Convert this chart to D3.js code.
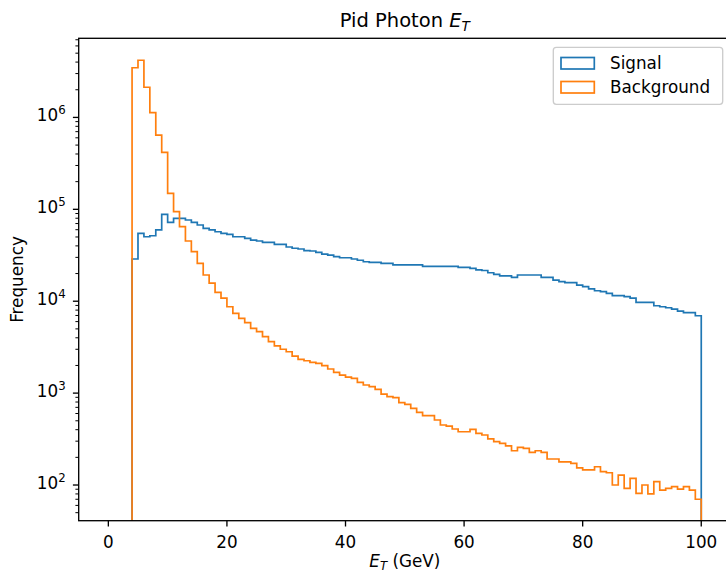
<!DOCTYPE html>
<html><head><meta charset="utf-8">
<script src="https://cdn.jsdelivr.net/npm/d3@7"></script>
<style>body{margin:0;background:#fff;} svg{display:block;font-family:"DejaVu Sans",sans-serif;}</style>
</head><body><svg id="c" width="726" height="576"></svg>
<script>
// ---- data ----
const binEdges = d3.range(4, 101, 1); // 96 bins of 1 GeV from 4 to 100
const seriesNames = ["Signal", "Background"];
const signal = [
 28800,54800,50300,51600,59600,88300,72200,79800,79800,76500,
 72200,67500,62100,59600,57000,54800,53500,50300,50300,48300,
 46300,45200,43700,43700,41600,41600,38900,37700,37000,35600,
 35200,34000,32600,31800,30500,29700,29700,28800,27900,26900,
 26500,26500,25800,25800,24800,24800,24800,24800,24800,24000,
 24000,24000,24000,24000,24000,23400,23400,22800,21900,21600,
 20400,19600,18900,18900,18200,19300,19300,19300,19300,18200,
 18200,17000,16300,15900,15900,15000,14400,13600,13000,12700,
 12200,11500,11500,11200,10800,9730,9730,9730,8930,8710,
 8490,8220,7820,7500,7500,6950
];
const background = [
 3470000,4190000,2130000,1125000,643000,417000,149000,94200,64700,45200,
 34600,25800,19300,15700,12500,10800,8710,7380,6510,5840,
 5070,4660,4110,3630,3260,3000,2820,2530,2330,2250,
 2160,2110,1990,1830,1680,1570,1490,1450,1310,1225,
 1175,1100,977,914,891,787,756,684,618,568,
 568,510,450,438,407,380,380,404,365,350,
 317,296,284,266,236,257,251,227,236,227,
 192,192,179,179,172,154,146,146,158,140,
 136,100,128,92,118,81,100,80,109,88,
 92,96,90,96,88,70
];
const xTicks = [0, 20, 40, 60, 80, 100];
const yTickExps = [2, 3, 4, 5, 6];
const colors = ["#1f77b4", "#ff7f0e"];

// ---- layout ----
const svg = d3.select("#c");
const P = {left: 78.7, right: 730.9, top: 38.3, bottom: 520.7};
const x = d3.scaleLinear().domain([-5, 105]).range([P.left, P.right]);
const y = d3.scaleLog().domain([40.9, 7.26e6]).range([P.bottom, P.top]);
const FS = 16.8;

svg.append("defs").append("clipPath").attr("id", "clip")
  .append("rect").attr("x", P.left).attr("y", P.top)
  .attr("width", P.right - P.left).attr("height", P.bottom - P.top);

function stepPath(vals) {
  const pts = [[x(binEdges[0]), P.bottom + 10]];
  vals.forEach((v, i) => {
    pts.push([x(binEdges[i]), y(v)]);
    pts.push([x(binEdges[i + 1]), y(v)]);
  });
  pts.push([x(binEdges[binEdges.length - 1]), P.bottom + 10]);
  return d3.line()(pts);
}

const g = svg.append("g").attr("clip-path", "url(#clip)");
[signal, background].forEach((vals, k) => {
  g.append("path").attr("d", stepPath(vals)).attr("fill", "none")
    .attr("stroke", colors[k]).attr("stroke-width", 1.7)
    .attr("stroke-linejoin", "miter");
});

// spines
svg.append("rect").attr("x", P.left).attr("y", P.top)
  .attr("width", P.right - P.left).attr("height", P.bottom - P.top)
  .attr("fill", "none").attr("stroke", "#000").attr("stroke-width", 1.33);

// x ticks
xTicks.forEach(t => {
  svg.append("line").attr("x1", x(t)).attr("x2", x(t))
    .attr("y1", P.bottom).attr("y2", P.bottom + 5.8)
    .attr("stroke", "#000").attr("stroke-width", 1.33);
  svg.append("text").attr("x", x(t)).attr("y", P.bottom + 27)
    .attr("text-anchor", "middle").attr("font-size", FS).attr("fill", "#000").text(t);
});

// y ticks major
yTickExps.forEach(e => {
  const yy = y(Math.pow(10, e));
  svg.append("line").attr("x1", P.left - 5.8).attr("x2", P.left)
    .attr("y1", yy).attr("y2", yy).attr("stroke", "#000").attr("stroke-width", 1.33);
  const t = svg.append("text").attr("x", P.left - 13).attr("y", yy + 4)
    .attr("text-anchor", "end").attr("font-size", FS).attr("fill", "#000");
  t.append("tspan").text("10");
  t.append("tspan").attr("dy", -7).attr("font-size", FS * 0.7).text(e);
});
// y minor ticks
for (let e = 1; e <= 6; e++) {
  for (let k = 2; k <= 9; k++) {
    const v = k * Math.pow(10, e);
    if (v < y.domain()[0] || v > y.domain()[1]) continue;
    svg.append("line").attr("x1", P.left - 3.3).attr("x2", P.left)
      .attr("y1", y(v)).attr("y2", y(v)).attr("stroke", "#000").attr("stroke-width", 1);
  }
}

// labels
const xl = svg.append("text").attr("x", x(50)).attr("y", 567)
  .attr("text-anchor", "middle").attr("font-size", FS).attr("fill", "#000");
xl.append("tspan").attr("font-style", "italic").text("E");
xl.append("tspan").attr("font-style", "italic").attr("font-size", FS * 0.7).attr("dy", 3).text("T");
xl.append("tspan").attr("dy", -3).text(" (GeV)");

svg.append("text").attr("transform", `translate(23,${(P.top + P.bottom) / 2}) rotate(-90)`)
  .attr("text-anchor", "middle").attr("font-size", FS).attr("fill", "#000").text("Frequency");

const tl = svg.append("text").attr("x", (P.left + P.right) / 2).attr("y", 27)
  .attr("text-anchor", "middle").attr("font-size", 19.5).attr("fill", "#000");
tl.append("tspan").text("Pid Photon ");
tl.append("tspan").attr("font-style", "italic").text("E");
tl.append("tspan").attr("font-style", "italic").attr("font-size", 19.5 * 0.7).attr("dy", 4).text("T");

// legend
const lg = svg.append("g");
lg.append("rect").attr("x", 553.3).attr("y", 47.3).attr("width", 169.4).attr("height", 57)
  .attr("rx", 3).attr("fill", "#fff").attr("fill-opacity", 0.8)
  .attr("stroke", "#cccccc").attr("stroke-width", 1.33);
seriesNames.forEach((n, i) => {
  const yy = 57.5 + i * 24;
  lg.append("rect").attr("x", 561).attr("y", yy).attr("width", 33.3).attr("height", 11.5)
    .attr("fill", "none").attr("stroke", colors[i]).attr("stroke-width", 1.7);
  lg.append("text").attr("x", 610).attr("y", yy + 11).attr("font-size", FS)
    .attr("fill", "#000").text(n);
});
</script></body></html>
